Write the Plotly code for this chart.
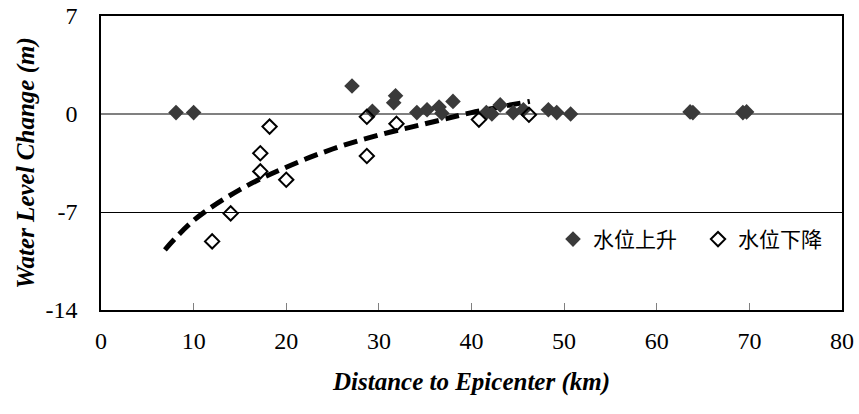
import plotly.graph_objects as go

# Data
rise_x = [8.1, 10.0, 27.1, 29.3, 31.6, 31.8, 34.1, 35.2, 36.5, 36.8, 38.0, 41.6, 42.2, 43.1,
          44.5, 45.6, 48.3, 49.2, 50.7, 63.6, 63.9, 69.3, 69.7]
rise_y = [0.1, 0.1, 2.0, 0.2, 0.8, 1.3, 0.1, 0.3, 0.5, 0.05, 0.9, 0.1, 0.0, 0.65,
          0.1, 0.3, 0.3, 0.1, 0.0, 0.15, 0.1, 0.1, 0.15]

fall_x = [12.0, 14.0, 17.2, 17.2, 18.2, 20.0, 28.7, 28.7, 31.9, 40.8, 46.2]
fall_y = [-9.1, -7.1, -4.1, -2.8, -0.9, -4.7, -3.0, -0.2, -0.7, -0.4, -0.05]

trend_x = [6.9, 10, 15, 20, 25, 30, 35, 40, 46.3]
trend_y = [-9.7, -7.6, -5.4, -3.8, -2.5, -1.5, -0.7, 0.1, 0.9]

x_ticks = [0, 10, 20, 30, 40, 50, 60, 70, 80]
y_ticks = [-14, -7, 0, 7]
y_tick_text = ["-14", "-7", "0", "7"]

serif = "Liberation Serif, Times New Roman, serif"
cjk = "Noto Sans CJK TC, Noto Sans CJK SC, sans-serif"

fig = go.Figure()
fig.add_trace(go.Scatter(
    x=trend_x, y=trend_y, mode="lines", line_shape="spline",
    line=dict(color="black", width=5, dash="14px,7px"),
    showlegend=False, hoverinfo="skip"))
fig.add_trace(go.Scatter(
    x=rise_x, y=rise_y, mode="markers", name="水位上升",
    marker=dict(symbol="diamond", size=12, color="#3a3a3a")))
fig.add_trace(go.Scatter(
    x=fall_x, y=fall_y, mode="markers", name="水位下降",
    marker=dict(symbol="diamond-open", size=11, color="black", line=dict(width=2, color="black"))))

fig.update_layout(
    width=859, height=414,
    margin=dict(l=101, r=17, t=16, b=104),
    paper_bgcolor="white", plot_bgcolor="white",
    font=dict(family=serif, color="black"),
    legend=dict(x=0.61, y=0.24, xanchor="left", yanchor="middle", orientation="h",
                font=dict(family=cjk, size=21, color="black"),
                bgcolor="rgba(0,0,0,0)", entrywidth=100, entrywidthmode="pixels",
                itemwidth=30),
    xaxis=dict(range=[0, 80], tickvals=x_ticks, showgrid=False, zeroline=False,
               automargin=False,
               ticks="inside", ticklen=7, tickcolor="#808080", tickwidth=1,
               showline=True, linecolor="black", linewidth=1.5, mirror=True,
               tickfont=dict(family=serif, size=24), ticklabelstandoff=8,
               title=dict(text="<b><i>Distance to Epicenter (km)</i></b>",
                          font=dict(family=serif, size=25), standoff=20)),
    yaxis=dict(range=[-14, 7], tickvals=y_ticks, ticktext=y_tick_text,
               showgrid=True, gridcolor="black", gridwidth=1, automargin=False,
               zeroline=True, zerolinecolor="#808080", zerolinewidth=1.5,
               ticks="", showline=True, linecolor="black", linewidth=1.5, mirror=True,
               tickfont=dict(family=serif, size=24), ticklabelstandoff=17,
               title=dict(text="<b><i>Water Level Change (m)</i></b>",
                          font=dict(family=serif, size=25), standoff=4)),
)

fig.write_html("out.html")
